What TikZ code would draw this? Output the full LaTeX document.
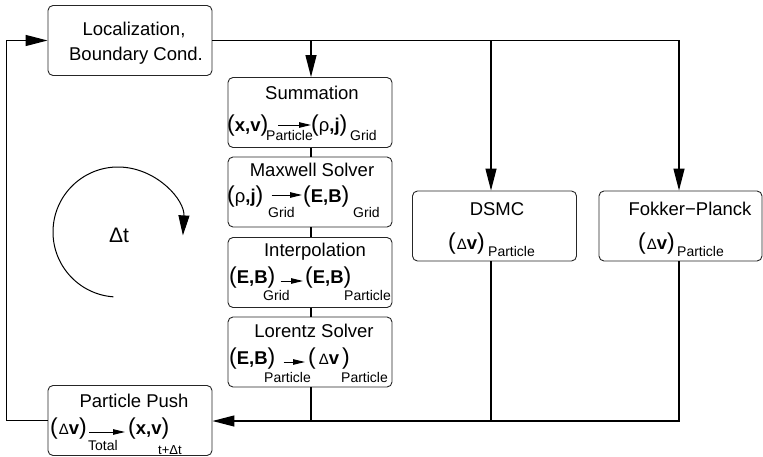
\documentclass[tikz,border=0pt]{standalone}
\usepackage{fontspec}
\setmainfont{Liberation Sans}
\usetikzlibrary{arrows.meta}

% large regular-weight parentheses around a bold group
\newcommand\bigpar[1]{{\mdseries\fontsize{23}{23}\selectfont #1}}
\newcommand\grp[1]{\bigpar{(}#1\bigpar{)}}
\newcommand\dlt{{\mdseries\fontsize{15}{15}\selectfont Δ}}

\begin{document}
\begin{tikzpicture}[x=1pt,y=-1pt,
  font=\fontsize{18.5}{22}\selectfont,
  box/.style={draw=black!85, line width=0.9pt, rounded corners=5pt,
              minimum width=164pt, minimum height=70pt, inner sep=0pt},
  ttl/.style={anchor=base, inner sep=0pt},
  fml/.style={anchor=base west, inner sep=0pt, font=\fontsize{18.5}{22}\selectfont\bfseries},
  sb/.style={anchor=base west, inner sep=0pt, font=\fontsize{14}{16}\selectfont},
  link/.style={line width=1.3pt},
  flow/.style={link, -{Triangle[length=22pt,width=11pt]}},
  sarr/.style={line width=0.9pt, -{Triangle[length=12pt,width=5.5pt]}},
]
\useasboundingbox (0,0) rectangle (763,457);

% ---------- boxes ----------
\node[box] (loc)  at (130,40.5) {};
\node[box] (sum)  at (310,112.5) {};
\node[box] (max)  at (310,192) {};
\node[box] (int)  at (310,272.5) {};
\node[box] (lor)  at (310,352) {};
\node[box] (push) at (130,420.5) {};
\node[box] (dsmc) at (494.5,226) {};
\node[box, minimum width=163pt] (fp) at (680.5,226) {};

% ---------- titles ----------
\node[ttl] (locT1) at (134,36) {Localization,};
\node[ttl] (locT2) at (136,61) {Boundary Cond.};
\node[ttl] (sumT)  at (312,100) {Summation};
\node[ttl] (maxT)  at (312,177) {Maxwell Solver};
\node[ttl] (intT)  at (315,257) {Interpolation};
\node[ttl] (lorT)  at (314,337) {Lorentz Solver};
\node[ttl] (pushT) at (134,407) {Particle Push};
\node[ttl] (dsmcT) at (497,215) {DSMC};
\node[ttl] (fpT)   at (690,215) {Fokker−Planck};

% ---------- formulas ----------
% Summation
\node[fml] (sumA)  at (227,132) {\grp{x,v}};
\node[sb]  (sumAs) at (266,141) {Particle};
\node[fml] (sumB)  at (311,132) {\grp{\mdseries ρ\bfseries,j}};
\node[sb]  (sumBs) at (350,141) {Grid};
\draw[sarr] ([shift={(10,-7)}]sumA.base east) -- ([shift={(0,-7)}]sumB.base west);
% Maxwell solver
\node[fml] (maxA)  at (227,203) {\grp{\mdseries ρ\bfseries,j}};
\node[sb]  (maxAs) at (268,218) {Grid};
\node[fml] (maxB)  at (303,203) {\grp{E,B}};
\node[sb]  (maxBs) at (353,218) {Grid};
\draw[sarr] ([shift={(8,-8)}]maxA.base east) -- ([shift={(-1,-8)}]maxB.base west);
% Interpolation
\node[fml] (intA)  at (229,283) {\grp{E,B}};
\node[sb]  (intAs) at (263,300) {Grid};
\node[fml] (intB)  at (305,283) {\grp{E,B}};
\node[sb]  (intBs) at (344,300) {Particle};
\draw[sarr] ([shift={(5,-2)}]intA.base east) -- ([shift={(-2,-2)}]intB.base west);
% Lorentz solver
\node[fml] (lorA)  at (229,364) {\grp{E,B}};
\node[sb]  (lorAs) at (264,382) {Particle};
\node[fml] (lorB)  at (308,364) {\grp{\kern3pt\dlt v\kern3pt}};
\node[sb]  (lorBs) at (341,382) {Particle};
\draw[sarr] ([shift={(8,-2)}]lorA.base east) -- ([shift={(-3,-2)}]lorB.base west);
% Particle push
\node[fml] (pushA)  at (50,434) {\grp{\kern1pt\dlt v}};
\node[sb]  (pushAs) at (88,450) {Total};
\node[fml] (pushB)  at (128,434) {\grp{x,v}};
\node[sb, font=\fontsize{13}{15}\selectfont] (pushBs) at (158,454) {t+Δt};
\draw[sarr] ([shift={(2,-2)}]pushA.base east) -- ([shift={(-3,-2)}]pushB.base west);
% DSMC and Fokker-Planck
\node[fml] (dsA)  at (448,249) {\grp{\kern1pt\dlt v}};
\node[sb]  (dsAs) at (488,256) {Particle};
\node[fml] (fpA)  at (638,249) {\grp{\kern1pt\dlt v}};
\node[sb]  (fpAs) at (677,256) {Particle};

% ---------- time-step cycle ----------
\draw[line width=1pt, -{Triangle[length=20pt,width=11pt]}]
  (118,232) ++(94:65) arc[start angle=94, end angle=363, radius=65];
\node[anchor=base, inner sep=0pt, font=\fontsize{21}{24}\selectfont] (dt) at (119,243) {Δt};

% ---------- connectors ----------
\coordinate (jS) at (311,40.5);
\coordinate (jD) at (491,40.5);
\coordinate (jF) at (679,40.5);
\coordinate (bL) at (311,421);
\coordinate (bD) at (491,421);
\coordinate (bF) at (679,421);

\draw[flow] (loc.east) -- (jF) -- (jF |- fp.north);
\draw[flow] (jS) -- (jS |- sum.north);
\draw[flow] (jD) -- (jD |- dsmc.north);

\draw[link] (jS |- sum.south) -- (jS |- max.north);
\draw[link] (jS |- max.south) -- (jS |- int.north);
\draw[link] (jS |- int.south) -- (jS |- lor.north);
\draw[link] (jS |- lor.south) -- (bL);
\draw[link] (jD |- dsmc.south) -- (bD);
\draw[flow] (jF |- fp.south) -- (bF) -- (bF -| push.east);

\draw[flow] (push.west) -- ++(-41,0) |- (loc.west);
\end{tikzpicture}
\end{document}
